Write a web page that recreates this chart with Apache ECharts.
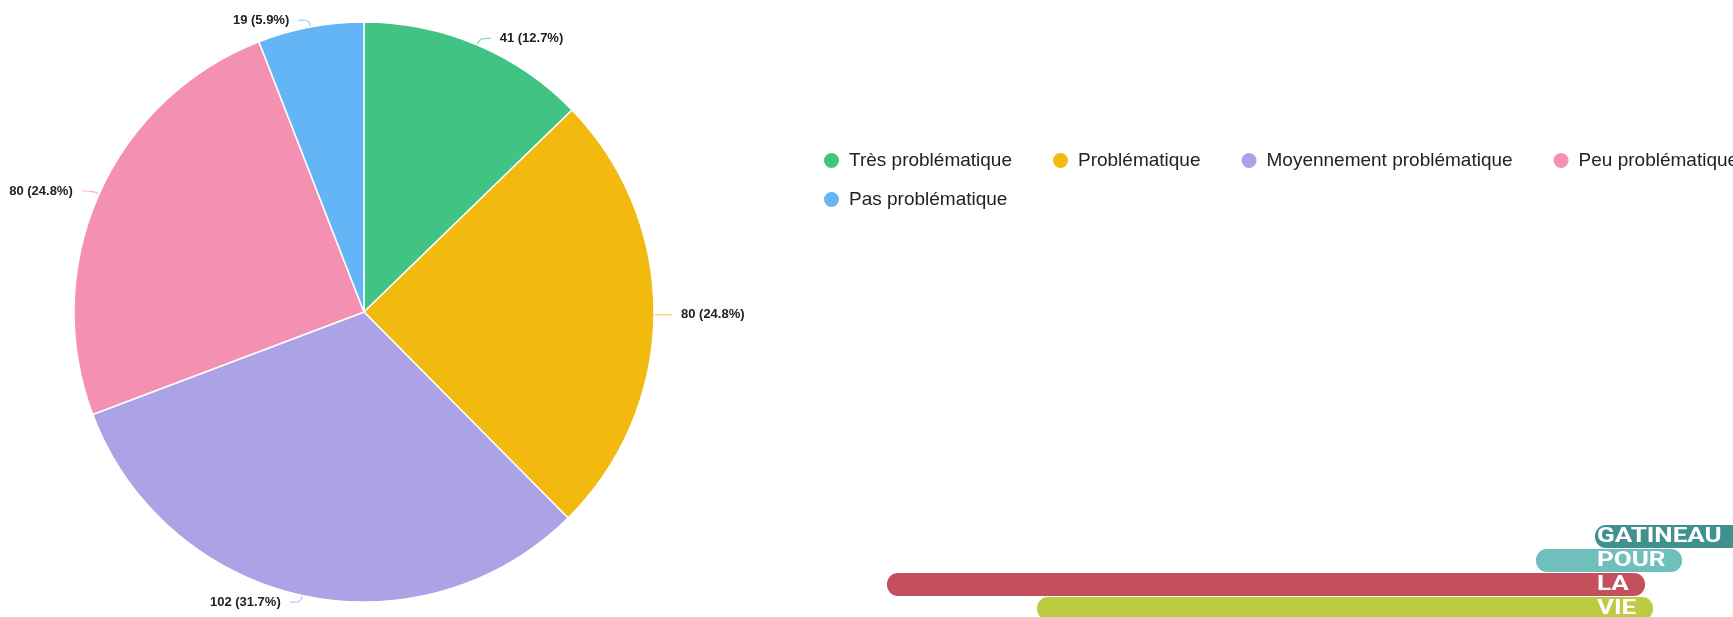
<!DOCTYPE html>
<html>

<head>
    <meta charset="utf-8" />
    <title>ECharts</title>
    <script src="https://cdn.jsdelivr.net/npm/echarts@6.0.0/dist/echarts.min.js"></script>
    <style>
        html, body { margin: 0; padding: 0; background: #fff; }
    </style>
</head>

<body>
    <div id="main" style="width: 1733px;height:617px;"></div>

    <script type="text/javascript">
        var myChart = echarts.init(document.getElementById('main'));

        // answer categories and counts
        var categories = ['Très problématique', 'Problématique', 'Moyennement problématique', 'Peu problématique', 'Pas problématique'];
        var counts = [41, 80, 102, 80, 19];
        var colors = ['#41c383', '#f2b90f', '#aca3e6', '#f491b2', '#64b5f6'];

        var total = counts.reduce(function (a, b) { return a + b; }, 0);

        var data = categories.map(function (name, i) {
            return { name: name, value: counts[i], itemStyle: { color: colors[i] } };
        });

        var legendText = {
            fontSize: 19, color: '#222',
            fontFamily: 'Liberation Sans, Arial, sans-serif',
            padding: [0, 0, 0, 4]
        };

        // logo in the bottom right corner (decoration)
        var logoBars = [
            { text: 'GATINEAU', color: '#40918e', x: 1595, y: 525, w: 160 },
            { text: 'POUR', color: '#6fbfbd', x: 1536, y: 549, w: 146 },
            { text: 'LA', color: '#c4505d', x: 887, y: 573, w: 758 },
            { text: 'VIE', color: '#bccb40', x: 1037, y: 597, w: 616 }
        ];
        var graphics = [];
        logoBars.forEach(function (b) {
            graphics.push({
                type: 'rect',
                shape: { x: b.x, y: b.y, width: b.w, height: 23, r: 11 },
                style: { fill: b.color }
            });
            graphics.push({
                type: 'text',
                x: 1597, y: b.y + 12,
                scaleX: 1.3,
                style: {
                    text: b.text, fill: '#fff', fontSize: 20, fontWeight: 'bold',
                    fontFamily: 'Roboto, Arial, sans-serif', verticalAlign: 'middle'
                }
            });
        });

        var option = {
            animation: false,
            legend: [
                {
                    data: categories.slice(0, 4),
                    left: 822,
                    top: 151,
                    width: 1400,
                    padding: 0,
                    itemGap: 39,
                    itemWidth: 17,
                    itemHeight: 17,
                    icon: 'circle',
                    textStyle: legendText
                },
                {
                    data: categories.slice(4),
                    left: 822,
                    top: 190,
                    padding: 0,
                    itemWidth: 17,
                    itemHeight: 17,
                    icon: 'circle',
                    textStyle: legendText
                }
            ],
            graphic: graphics,
            series: [
                {
                    type: 'pie',
                    center: [364, 312],
                    radius: 290,
                    startAngle: 90,
                    clockwise: true,
                    avoidLabelOverlap: false,
                    itemStyle: {
                        borderColor: '#fff',
                        borderWidth: 1.5
                    },
                    label: {
                        formatter: function (p) {
                            return p.value + ' (' + (p.value / total * 100).toFixed(1) + '%)';
                        },
                        fontSize: 13,
                        fontWeight: 'bold',
                        color: '#222',
                        fontFamily: 'Liberation Sans, Arial, sans-serif',
                        distanceToLabelLine: 9
                    },
                    labelLine: {
                        length: 7,
                        length2: 11,
                        smooth: 0.4,
                        lineStyle: { width: 1.2, opacity: 0.65 }
                    },
                    data: data
                }
            ]
        };

        myChart.setOption(option);
    </script>
</body>

</html>
